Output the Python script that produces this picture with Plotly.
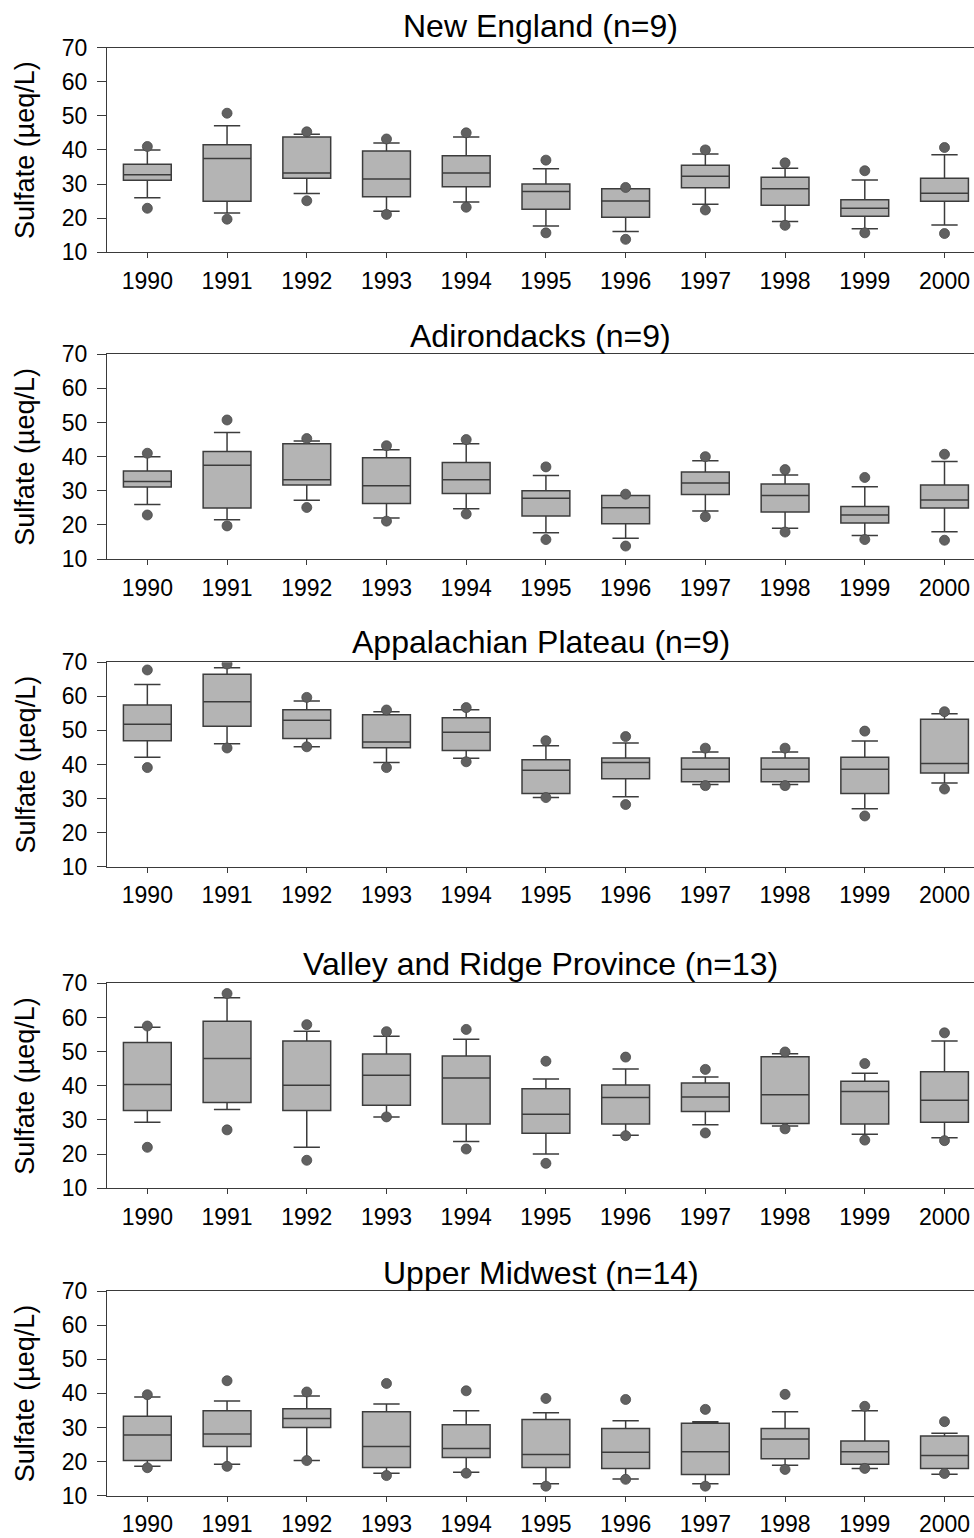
import plotly.graph_objects as go

YEARS = ["1990", "1991", "1992", "1993", "1994", "1995", "1996", "1997", "1998", "1999", "2000"]
TITLES = ["New England (n=9)", "Adirondacks (n=9)", "Appalachian Plateau (n=9)",
          "Valley and Ridge Province (n=13)", "Upper Midwest (n=14)"]
Y_TICKS = [10, 20, 30, 40, 50, 60, 70]

# New England
NE_LOW_DOT = [22.9, 19.7, 25.1, 21.1, 23.2, 15.7, 13.8, 22.4, 17.9, 15.7, 15.5]
NE_LOW_WHISK = [26.0, 21.5, 27.2, 22.0, 24.7, 17.7, 16.1, 24.1, 19.0, 16.9, 18.0]
NE_Q1 = [31.1, 24.95, 31.7, 26.3, 29.2, 22.6, 20.3, 28.9, 23.8, 20.55, 24.95]
NE_MED = [32.7, 37.5, 33.2, 31.5, 33.2, 27.8, 25.0, 32.3, 28.6, 22.9, 27.3]
NE_Q3 = [35.8, 41.5, 43.8, 39.7, 38.3, 30.0, 28.6, 35.5, 32.0, 25.4, 31.7]
NE_HIGH_WHISK = [40.0, 47.1, 44.6, 42.05, 43.8, 34.5, 28.6, 38.8, 34.6, 31.2, 38.6]
NE_HIGH_DOT = [41.0, 50.75, 45.3, 43.2, 45.0, 37.0, 29.0, 40.0, 36.2, 33.9, 40.7]

# Adirondacks
AD_LOW_DOT = [22.9, 19.7, 25.1, 21.1, 23.2, 15.7, 13.8, 22.4, 17.9, 15.7, 15.5]
AD_LOW_WHISK = [26.0, 21.5, 27.2, 22.0, 24.7, 17.7, 16.1, 24.1, 19.0, 16.9, 18.0]
AD_Q1 = [31.1, 24.95, 31.7, 26.3, 29.2, 22.6, 20.3, 28.9, 23.8, 20.55, 24.95]
AD_MED = [32.7, 37.5, 33.2, 31.5, 33.2, 27.8, 25.0, 32.3, 28.6, 22.9, 27.3]
AD_Q3 = [35.8, 41.5, 43.8, 39.7, 38.3, 30.0, 28.6, 35.5, 32.0, 25.4, 31.7]
AD_HIGH_WHISK = [40.0, 47.1, 44.6, 42.05, 43.8, 34.5, 28.6, 38.8, 34.6, 31.2, 38.6]
AD_HIGH_DOT = [41.0, 50.75, 45.3, 43.2, 45.0, 37.0, 29.0, 40.0, 36.2, 33.9, 40.7]

# Appalachian Plateau
AP_LOW_DOT = [39.1, 44.85, 45.2, 39.1, 40.8, 30.3, 28.25, 33.8, 33.8, 24.9, 32.8]
AP_LOW_WHISK = [42.1, 46.1, 45.2, 40.6, 41.8, 30.3, 30.5, 34.1, 34.1, 27.0, 34.6]
AP_Q1 = [47.0, 51.2, 47.6, 44.9, 44.1, 31.5, 35.8, 34.9, 34.9, 31.5, 37.5]
AP_MED = [51.8, 58.45, 53.0, 46.6, 49.5, 38.3, 40.6, 38.6, 38.6, 38.6, 40.3]
AP_Q3 = [57.5, 66.5, 56.1, 54.6, 53.75, 41.4, 41.9, 41.9, 41.9, 42.1, 53.3]
AP_HIGH_WHISK = [63.5, 68.4, 58.65, 55.5, 56.1, 45.5, 46.3, 43.7, 43.7, 46.9, 54.9]
AP_HIGH_DOT = [67.75, 69.5, 59.7, 56.0, 56.7, 47.0, 48.2, 44.8, 44.8, 49.8, 55.5]

# Valley and Ridge Province
VR_LOW_DOT = [22.0, 27.1, 18.2, 30.9, 21.5, 17.3, 25.4, 26.2, 27.4, 24.1, 23.95]
VR_LOW_WHISK = [29.3, 33.1, 22.0, 30.9, 23.7, 20.05, 25.5, 28.6, 28.2, 25.8, 24.8]
VR_Q1 = [32.8, 35.1, 32.8, 34.3, 28.8, 26.1, 28.8, 32.5, 29.0, 28.8, 29.3]
VR_MED = [40.4, 48.0, 40.15, 43.1, 42.3, 31.7, 36.6, 36.7, 37.4, 38.3, 35.8]
VR_Q3 = [52.7, 58.9, 53.1, 49.3, 48.7, 39.1, 40.2, 40.8, 48.5, 41.3, 44.1]
VR_HIGH_WHISK = [57.1, 65.8, 55.95, 54.5, 53.6, 42.0, 44.9, 42.6, 49.4, 43.7, 53.1]
VR_HIGH_DOT = [57.5, 67.0, 57.9, 55.85, 56.5, 47.2, 48.4, 44.8, 49.9, 46.5, 55.5]

# Upper Midwest
UM_LOW_DOT = [18.2, 18.6, 20.3, 15.9, 16.6, 12.8, 14.8, 12.8, 17.7, 18.0, 16.5]
UM_LOW_WHISK = [18.6, 19.2, 20.35, 16.6, 16.9, 13.5, 14.9, 13.5, 18.9, 18.0, 16.3]
UM_Q1 = [20.35, 24.4, 30.0, 18.3, 21.2, 18.3, 18.0, 16.25, 20.85, 19.2, 18.0]
UM_MED = [27.8, 28.1, 32.6, 24.4, 23.8, 22.1, 22.7, 22.9, 26.6, 22.9, 21.8]
UM_Q3 = [33.3, 34.9, 35.5, 34.6, 30.8, 32.3, 29.7, 31.2, 29.7, 26.0, 27.5]
UM_HIGH_WHISK = [38.9, 37.75, 39.2, 36.9, 34.9, 34.3, 32.0, 31.7, 34.6, 34.9, 28.3]
UM_HIGH_DOT = [39.6, 43.7, 40.4, 42.9, 40.75, 38.5, 38.2, 35.3, 39.7, 36.2, 31.7]

PANELS = [
    (NE_LOW_DOT, NE_LOW_WHISK, NE_Q1, NE_MED, NE_Q3, NE_HIGH_WHISK, NE_HIGH_DOT),
    (AD_LOW_DOT, AD_LOW_WHISK, AD_Q1, AD_MED, AD_Q3, AD_HIGH_WHISK, AD_HIGH_DOT),
    (AP_LOW_DOT, AP_LOW_WHISK, AP_Q1, AP_MED, AP_Q3, AP_HIGH_WHISK, AP_HIGH_DOT),
    (VR_LOW_DOT, VR_LOW_WHISK, VR_Q1, VR_MED, VR_Q3, VR_HIGH_WHISK, VR_HIGH_DOT),
    (UM_LOW_DOT, UM_LOW_WHISK, UM_Q1, UM_MED, UM_Q3, UM_HIGH_WHISK, UM_HIGH_DOT),
]

W, H = 974, 1538
PANEL_TOP = [47.5, 354.3, 662.3, 983.3, 1291.0]
PANEL_BOT = [252.3, 559.0, 866.7, 1188.3, 1495.7]
TITLE_Y = [26.5, 335.5, 641.5, 963.5, 1273.0]
PLOT_LEFT = 107.0

FONT = "Liberation Sans, Arial, sans-serif"
AXIS_COLOR = "#3a3a3a"
BOX_FILL = "#b4b4b4"
BOX_LINE = "#3c3c3c"
DOT_COLOR = "#616161"

fig = go.Figure()
xpos = list(range(len(YEARS)))
layout = dict(
    width=W, height=H,
    margin=dict(l=0, r=0, t=0, b=0, autoexpand=False),
    paper_bgcolor="white", plot_bgcolor="white",
    showlegend=False,
    font=dict(family=FONT, color="black"),
    annotations=[],
)

for i, (ld, lw, q1, med, q3, hw, hd) in enumerate(PANELS):
    n = i + 1
    xa = "x" if n == 1 else f"x{n}"
    ya = "y" if n == 1 else f"y{n}"
    fig.add_trace(go.Box(
        x=xpos, q1=q1, median=med, q3=q3, lowerfence=lw, upperfence=hw,
        width=0.6, whiskerwidth=0.55, boxpoints=False,
        fillcolor=BOX_FILL, line=dict(color=BOX_LINE, width=1.5),
        xaxis=xa, yaxis=ya, hoverinfo="skip",
    ))
    fig.add_trace(go.Scatter(
        x=xpos + xpos, y=ld + hd, mode="markers",
        marker=dict(size=10, color=DOT_COLOR, line=dict(color="#4a4a4a", width=0.8)),
        xaxis=xa, yaxis=ya, hoverinfo="skip",
    ))
    dom = [1 - PANEL_BOT[i] / H, 1 - PANEL_TOP[i] / H]
    layout[f"xaxis{'' if n == 1 else n}"] = dict(
        domain=[PLOT_LEFT / W, 1.0], anchor=ya, range=[-0.506, 10.37],
        tickmode="array", tickvals=xpos, ticktext=YEARS, automargin=False,
        showline=True, mirror=True, linecolor=AXIS_COLOR, linewidth=1.3,
        ticks="outside", ticklen=5, tickcolor=AXIS_COLOR, tickwidth=1.2,
        ticklabelstandoff=3,
        showgrid=False, zeroline=False,
        tickfont=dict(family=FONT, size=23, color="black"),
    )
    layout[f"yaxis{'' if n == 1 else n}"] = dict(
        domain=dom, anchor=xa, range=[10, 70], automargin=False,
        tickmode="array", tickvals=Y_TICKS,
        showline=True, linecolor=AXIS_COLOR, linewidth=1.3,
        ticks="outside", ticklen=9, tickcolor=AXIS_COLOR, tickwidth=1.2,
        ticklabelstandoff=5,
        showgrid=False, zeroline=False,
        tickfont=dict(family=FONT, size=23, color="black"),
    )
    layout["annotations"].append(dict(
        text=TITLES[i], xref="paper", yref="paper",
        x=(PLOT_LEFT + W) / 2 / W, y=1 - TITLE_Y[i] / H,
        xanchor="center", yanchor="middle", showarrow=False,
        font=dict(family=FONT, size=32, color="black"),
    ))
    layout["annotations"].append(dict(
        text="Sulfate (µeq/L)", xref="paper", yref="paper",
        x=25 / W, y=1 - (PANEL_TOP[i] + PANEL_BOT[i]) / 2 / H,
        xanchor="center", yanchor="middle", textangle=-90, showarrow=False,
        font=dict(family=FONT, size=27, color="black"),
    ))

fig.update_layout(**layout)
fig.write_html("out.html")
